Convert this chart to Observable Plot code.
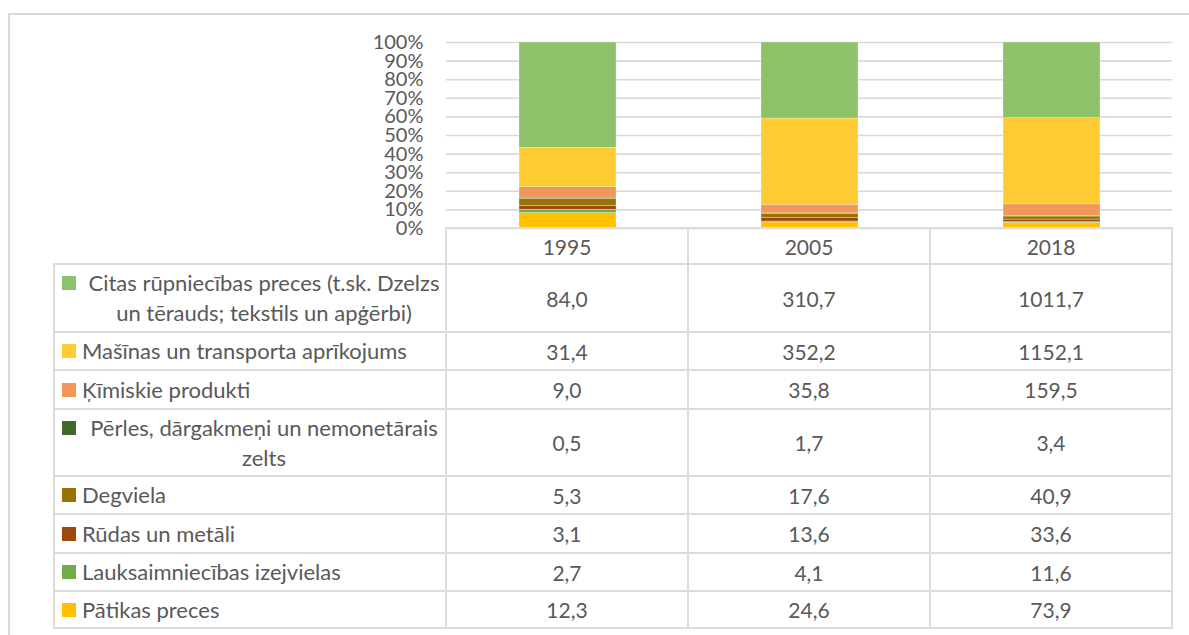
<!DOCTYPE html>
<html><head><meta charset="utf-8">
<script src="https://cdn.jsdelivr.net/npm/d3@7"></script>
<script src="https://cdn.jsdelivr.net/npm/@observablehq/plot@0.6"></script>
<style>
html,body{margin:0;padding:0;background:#fff;font-family:Lato,"Noto Sans",sans-serif;color:#595959;overflow:hidden;}
#frame{position:absolute;left:8px;top:13px;width:1400px;height:800px;border-left:2px solid #dadada;border-top:2px solid #dadada;}
#chart{position:absolute;left:0;top:0;}
#tbl{position:absolute;left:0;top:0;}
.hl{position:absolute;height:2px;background:#dcdcdc;}
.vl{position:absolute;width:2px;background:#dcdcdc;}
.cell{position:absolute;display:flex;align-items:center;justify-content:center;font-size:21px;}
.labcell{position:absolute;display:flex;align-items:center;}
.labwrap{display:flex;align-items:flex-start;width:100%;}
.key{flex:0 0 14px;width:14px;height:14px;margin:8px 6px 0 8px;}
.txt{flex:1;line-height:30px;white-space:pre;font-size:22px;}
</style></head><body>
<div id="frame"></div>
<div id="chart"></div>
<div id="tbl"></div>
<script>
// ---- data ----
const years = ["1995", "2005", "2018"];
// table order (top to bottom)
const categories = [
  "Citas rūpniecības preces (t.sk. Dzelzs\nun tērauds; tekstils un apģērbi)",
  "Mašīnas un transporta aprīkojums",
  "Ķīmiskie produkti",
  "Pērles, dārgakmeņi un nemonetārais\nzelts",
  "Degviela",
  "Rūdas un metāli",
  "Lauksaimniecības izejvielas",
  "Pātikas preces"
];
const colors = ["#8dc16a", "#ffcb33", "#f1975a", "#43682b", "#997300", "#9e480e", "#70ad47", "#ffc000"];
const values1995 = [84.0, 31.4, 9.0, 0.5, 5.3, 3.1, 2.7, 12.3];
const values2005 = [310.7, 352.2, 35.8, 1.7, 17.6, 13.6, 4.1, 24.6];
const values2018 = [1011.7, 1152.1, 159.5, 3.4, 40.9, 33.6, 11.6, 73.9];
const yTicks = [0, 0.1, 0.2, 0.3, 0.4, 0.5, 0.6, 0.7, 0.8, 0.9, 1];

const series = [values1995, values2005, values2018];

// long table, stacked bottom-to-top (reverse of table order)
const data = [];
for (let i = categories.length - 1; i >= 0; i--) {
  years.forEach((y, j) => data.push({year: y, cat: categories[i], value: series[j][i]}));
}

const chart = Plot.plot({
  width: 1189,
  height: 246,
  marginTop: 42,
  marginBottom: 18,
  marginLeft: 446,
  marginRight: 17,
  style: {fontFamily: "Lato, 'Noto Sans', sans-serif", fontSize: "20px", color: "#595959", background: "transparent"},
  x: {domain: years, paddingInner: 0.6, paddingOuter: 0.3, axis: null},
  y: {domain: [0, 1], ticks: yTicks, tickFormat: d => Math.round(d * 100) + "%", tickSize: 0, tickPadding: 23, label: null},
  color: {domain: categories, range: colors},
  marks: [
    Plot.ruleY(yTicks, {stroke: "#d9d9d9", strokeWidth: 1.6}),
    Plot.barY(data, Plot.stackY({offset: "normalize", order: null, x: "year", y: "value", fill: "cat", stroke: "#ffffff", strokeWidth: 0.5, strokeOpacity: 0.6}))
  ]
});
document.getElementById("chart").appendChild(chart);

// ---- data table (layout) ----
const colEdges = [54, 446, 688, 930, 1172];
const rowEdges = [228, 264, 332, 370, 409, 476, 514, 553, 591, 628];
const fmt = v => d3.format(".1f")(v).replace(".", ",");
const tbl = document.getElementById("tbl");
function add(cls, style, html) {
  const d = document.createElement("div");
  d.className = cls;
  Object.assign(d.style, style);
  if (html !== undefined) d.textContent = html;
  tbl.appendChild(d);
  return d;
}
// horizontal lines
rowEdges.forEach((y, r) => {
  const x0 = r === 0 ? colEdges[1] : colEdges[0];
  add("hl", {left: (x0 - 1) + "px", top: (y - 1) + "px", width: (colEdges[4] - x0 + 2) + "px"});
});
// vertical lines
colEdges.forEach((x, c) => {
  const y0 = c === 0 ? rowEdges[1] : rowEdges[0];
  add("vl", {left: (x - 1) + "px", top: (y0 - 1) + "px", height: (rowEdges[rowEdges.length - 1] - y0 + 2) + "px"});
});
// header
years.forEach((yr, j) => {
  add("cell", {left: colEdges[j + 1] + "px", top: rowEdges[0] + "px", width: (colEdges[j + 2] - colEdges[j + 1]) + "px", height: (rowEdges[1] - rowEdges[0]) + "px"}, yr);
});
// rows
categories.forEach((cat, i) => {
  const top = rowEdges[i + 1], h = rowEdges[i + 2] - rowEdges[i + 1];
  const lc = add("labcell", {left: colEdges[0] + "px", top: top + "px", width: (colEdges[1] - colEdges[0]) + "px", height: h + "px"});
  const wrap = document.createElement("div");
  wrap.className = "labwrap";
  const key = document.createElement("span");
  key.className = "key";
  key.style.background = colors[i];
  const txt = document.createElement("div");
  txt.className = "txt";
  txt.textContent = cat;
  if (cat.includes("\n")) txt.style.textAlign = "center";
  wrap.appendChild(key); wrap.appendChild(txt);
  lc.appendChild(wrap);
  series.forEach((s, j) => {
    add("cell", {left: colEdges[j + 1] + "px", top: top + "px", width: (colEdges[j + 2] - colEdges[j + 1]) + "px", height: h + "px"}, fmt(s[i]));
  });
});
</script>
</body></html>
